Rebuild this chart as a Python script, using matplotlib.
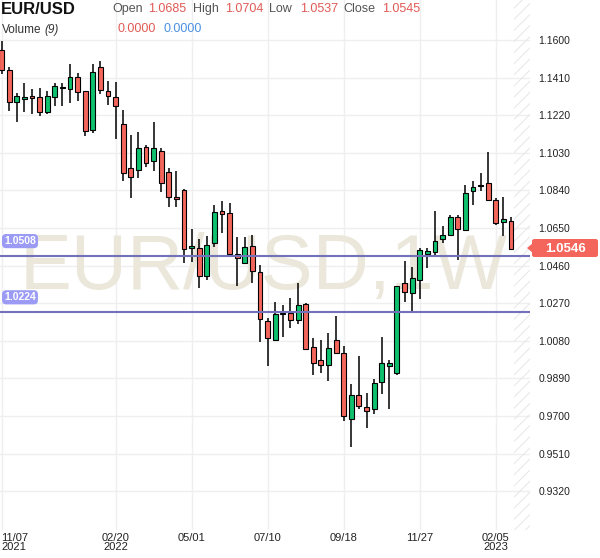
"""
Weekly EUR/USD candlestick chart with two horizontal price levels.
Output: out.png
"""

import pandas as pd
import matplotlib
matplotlib.use("Agg")
import matplotlib.pyplot as plt
from matplotlib.patches import Rectangle, Polygon, FancyBboxPatch

plt.rcParams["font.family"] = ["Liberation Sans", "DejaVu Sans"]
plt.rcParams["hatch.linewidth"] = 0.7
plt.rcParams["hatch.color"] = "#e6e6e6"

UP = "#0ec16e"
DOWN = "#f4665c"
LEVEL = "#7272bb"
LEVEL_TAG = "#9b9bf5"

# Weekly OHLC
opens = [1.1549, 1.1448, 1.1288, 1.1303, 1.1317, 1.1310, 1.1238, 1.1313, 1.1356, 1.1351,
         1.1411, 1.1341, 1.1144, 1.1462, 1.1341, 1.1310, 1.1174, 1.0952, 1.0942, 1.1058,
         1.0987, 1.1038, 1.0932, 1.0805, 1.0842, 1.0550, 1.0551, 1.0405, 1.0573, 1.0734,
         1.0724, 1.0517, 1.0472, 1.0558, 1.0426, 1.0179, 1.0086, 1.0214, 1.0219, 1.0184,
         1.0264, 1.0047, 0.9982, 0.9956, 1.0083, 1.0018, 0.9683, 0.9805, 0.9744, 0.9734,
         0.9870, 0.9951, 0.9916, 1.0371, 1.0320, 1.0386, 1.0517, 1.0527, 1.0593, 1.0613,
         1.0704, 1.0638, 1.0835, 1.0861, 1.0876, 1.0790, 1.0679, 1.0685]
highs = [1.1595, 1.1462, 1.1331, 1.1381, 1.1351, 1.1356, 1.1342, 1.1384, 1.1383, 1.1477,
         1.1432, 1.1343, 1.1479, 1.1494, 1.1391, 1.1386, 1.1245, 1.1119, 1.1134, 1.1069,
         1.1184, 1.1053, 1.0952, 1.0938, 1.0845, 1.0644, 1.0593, 1.0608, 1.0765, 1.0784,
         1.0775, 1.0605, 1.0605, 1.0615, 1.0463, 1.0194, 1.0278, 1.0261, 1.0295, 1.0371,
         1.0273, 1.0093, 1.0083, 1.0118, 1.0206, 1.0055, 0.9860, 1.0005, 0.9815, 0.9885,
         1.0098, 0.9981, 1.0357, 1.0482, 1.0453, 1.0547, 1.0547, 1.0734, 1.0659, 1.0714,
         1.0714, 1.0866, 1.0886, 1.0926, 1.1032, 1.0800, 1.0805, 1.0704]
lows = [1.1427, 1.1243, 1.1184, 1.1235, 1.1226, 1.1217, 1.1226, 1.1268, 1.1268, 1.1280,
        1.1293, 1.1116, 1.1132, 1.1326, 1.1272, 1.1102, 1.0888, 1.0803, 1.0901, 1.0956,
        1.0940, 1.0833, 1.0755, 1.0758, 1.0472, 1.0478, 1.0349, 1.0387, 1.0556, 1.0625,
        1.0510, 1.0359, 1.0470, 1.0371, 1.0076, 0.9954, 1.0081, 1.0097, 1.0145, 1.0163,
        1.0035, 0.9905, 0.9916, 0.9877, 1.0015, 0.9673, 0.9542, 0.9734, 0.9638, 0.9709,
        0.9810, 0.9734, 0.9906, 1.0275, 1.0224, 1.0290, 1.0446, 1.0507, 1.0573, 1.0611,
        1.0487, 1.0636, 1.0765, 1.0835, 1.0788, 1.0663, 1.0612, 1.0537]
closes = [1.1448, 1.1285, 1.1317, 1.1310, 1.1305, 1.1235, 1.1317, 1.1368, 1.1362, 1.1411,
          1.1336, 1.1140, 1.1440, 1.1347, 1.1315, 1.1265, 1.0927, 1.0906, 1.1053, 1.0977,
          1.1053, 1.0876, 1.0805, 1.0795, 1.0542, 1.0556, 1.0407, 1.0563, 1.0729, 1.0719,
          1.0517, 1.0497, 1.0552, 1.0431, 1.0189, 1.0093, 1.0214, 1.0219, 1.0184, 1.0260,
          1.0037, 0.9966, 0.9956, 1.0042, 1.0017, 0.9699, 0.9805, 0.9749, 0.9724, 0.9865,
          0.9966, 0.9966, 1.0355, 1.0325, 1.0396, 1.0537, 1.0532, 1.0583, 1.0613, 1.0704,
          1.0643, 1.0825, 1.0856, 1.0866, 1.0790, 1.0674, 1.0694, 1.0545]

weeks = pd.date_range("2021-11-07", periods=len(opens), freq="7D")

levels = [1.0508, 1.0224]
price_ticks = [1.1600, 1.1410, 1.1220, 1.1030, 1.0840, 1.0650, 1.0460,
               1.0270, 1.0080, 0.9890, 0.9700, 0.9510, 0.9320]
date_ticks = [0, 15, 25, 35, 45, 55, 65]
last_price = 1.0546

W, H = 600, 558


def px(x, y):
    # pixel position (from top-left) -> figure fraction
    return x / W, 1 - y / H


fig = plt.figure(figsize=(6, 5.58), dpi=100)
ax = fig.add_axes([0, 1 - 530 / H, 530 / W, 530 / H])

# Candles
body_w = 0.64
for i, (o, h, l, c) in enumerate(zip(opens, highs, lows, closes)):
    color = UP if c >= o else DOWN
    ax.vlines(i, l, h, color="black", lw=1.1, zorder=3)
    bottom = min(o, c)
    height = max(abs(c - o), 0.0007)
    ax.add_patch(Rectangle((i - body_w / 2, bottom), body_w, height,
                           facecolor=color, edgecolor="black", lw=0.8, zorder=4))

# Horizontal levels with tags on the left
for lv in levels:
    ax.axhline(lv, color=LEVEL, lw=1.5, zorder=5)
    ax.annotate(f"{lv:.4f}", xy=(0, lv), xycoords=("axes fraction", "data"),
                xytext=(20, 15), textcoords="offset pixels",
                ha="center", va="center", fontsize=7.5, fontweight="bold", color="white",
                bbox=dict(boxstyle="round,pad=0.2,rounding_size=0.4",
                          fc=LEVEL_TAG, ec="none"), zorder=6)

# Watermark
ax.text(0.497, 0.455, "EUR/USD,1W", transform=ax.transAxes, ha="center", va="baseline",
        fontsize=56, color="#ebe7db", zorder=1)

# Hatched "future" area right of the last candle
xmax = 69.5
ax.axvspan(len(opens) - 0.65, xmax, facecolor="none", hatch="///", lw=0, zorder=1)

ax.set_xlim(-0.2, xmax)
ax.set_ylim(0.9124, 1.1802)

ax.set_yticks(price_ticks)
ax.set_yticklabels([f"{v:.4f}" for v in price_ticks])
ax.yaxis.tick_right()
ax.tick_params(axis="y", length=0, pad=6, labelsize=7.5, labelcolor="#222222")

xt_labels = []
prev_year = None
for i in date_ticks:
    d = weeks[i]
    lab = d.strftime("%m/%d")
    if d.year != prev_year:
        lab += f"\n{d.year}"
        prev_year = d.year
    xt_labels.append(lab)
ax.set_xticks(date_ticks)
ax.set_xticklabels(xt_labels, linespacing=0.95)
ax.tick_params(axis="x", length=0, pad=2, labelsize=8, labelcolor="#222222")
ax.get_xticklabels()[0].set_horizontalalignment("left")

ax.grid(color="#efefef", lw=1)
ax.set_axisbelow(True)
for s in ax.spines.values():
    s.set_visible(False)

# Last price tag on the price scale
x0, y0 = px(532, 257)
x1, y1 = px(598, 239)
fig.patches.append(FancyBboxPatch((x0, y0), x1 - x0, y1 - y0, transform=fig.transFigure,
                                  boxstyle="round,pad=0,rounding_size=0.004",
                                  fc=DOWN, ec="none"))
fig.patches.append(Polygon([px(527, 248), px(533, 243), px(533, 253)], closed=True,
                           transform=fig.transFigure, fc=DOWN, ec="none"))
fig.text(*px(565, 248.5), f"{last_price:.4f}", ha="center", va="center",
         fontsize=9.5, fontweight="bold", color="white")

# Header
GRAY = "#555555"
RED = "#e05a55"
BLUE = "#4a90e2"
fig.text(*px(1, 10), "EUR/USD", fontsize=12, fontweight="bold", color="#111111", va="center")
header = [("Open", 112, GRAY), (f"{opens[-1]:.4f}", 148, RED),
          ("High", 193, GRAY), (f"{highs[-1]:.4f}", 225, RED),
          ("Low", 269, GRAY), (f"{lows[-1]:.4f}", 300, RED),
          ("Close", 343, GRAY), (f"{closes[-1]:.4f}", 382, RED)]
for txt, x, col in header:
    fig.text(*px(x, 9), txt, fontsize=9, color=col, va="center")
fig.text(*px(2, 30), "Volume", fontsize=8.5, color="#333333", va="center")
fig.text(*px(44, 30), "(9)", fontsize=8.5, color="#333333", va="center", style="italic")
fig.text(*px(117, 29), "0.0000", fontsize=9, color=RED, va="center")
fig.text(*px(163, 29), "0.0000", fontsize=9, color=BLUE, va="center")

fig.savefig("out.png", dpi=100)
